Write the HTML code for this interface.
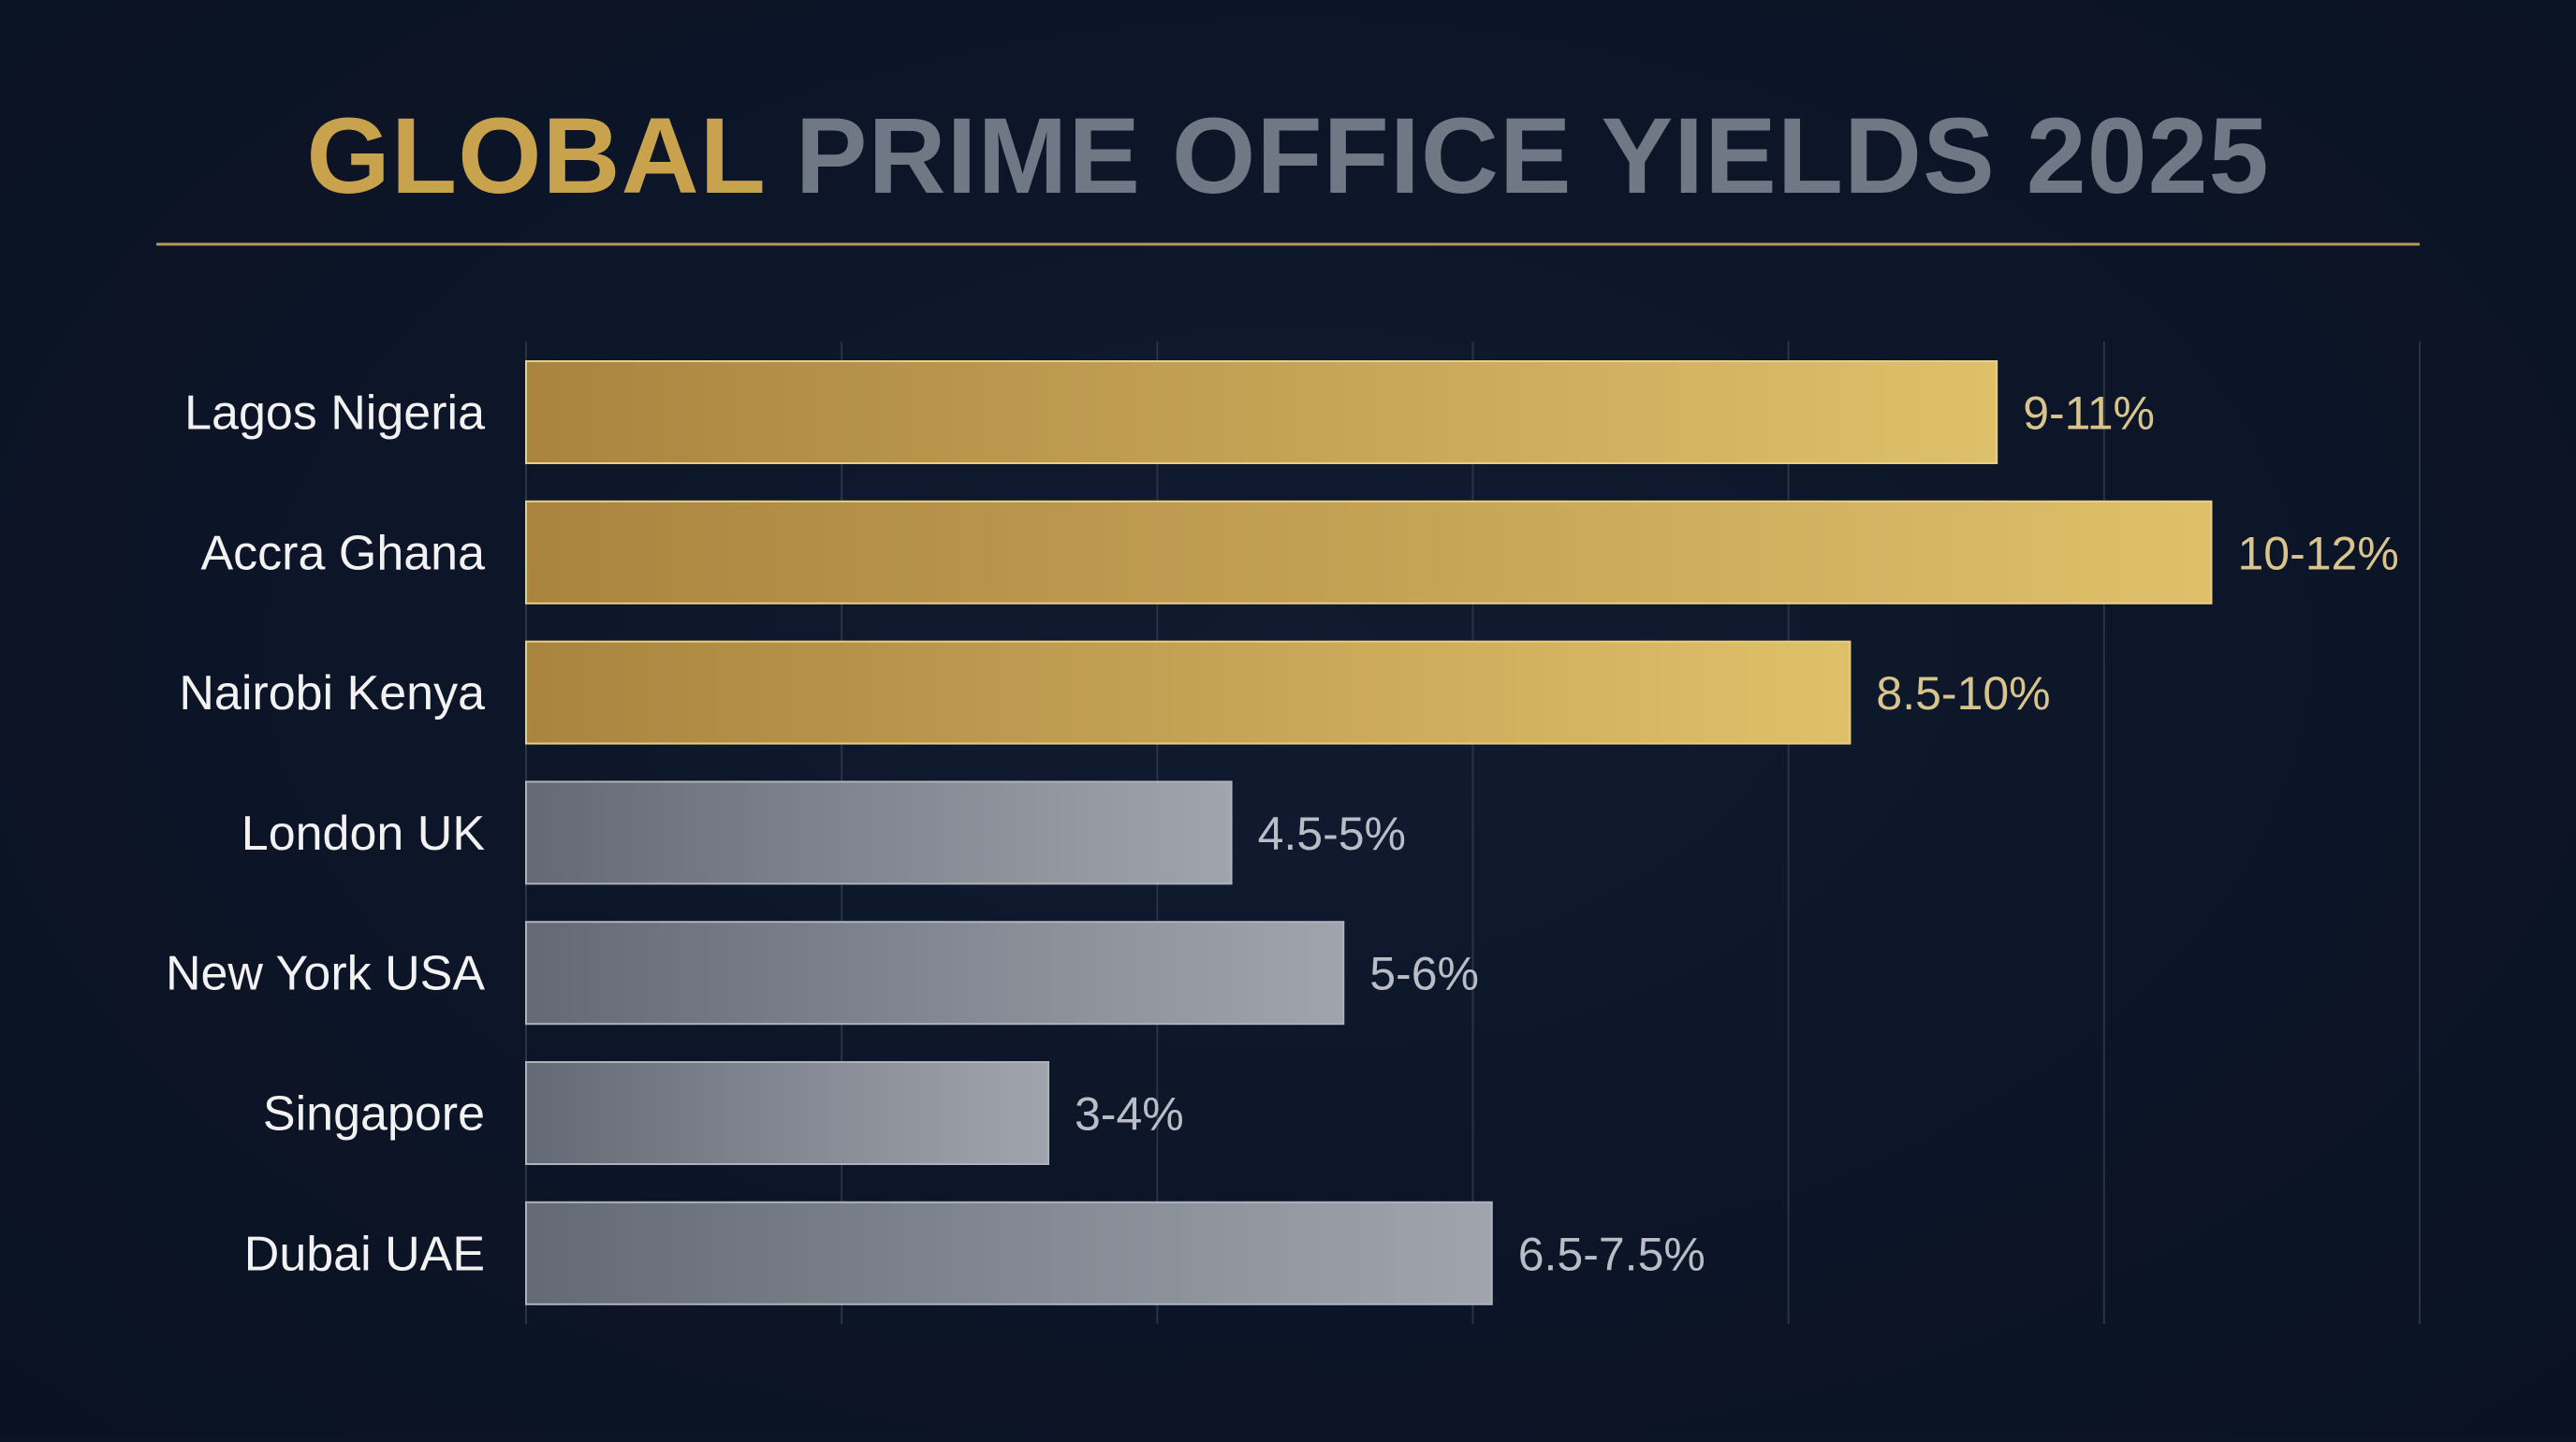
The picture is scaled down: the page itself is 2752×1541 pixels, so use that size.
<!DOCTYPE html>
<html><head><meta charset="utf-8"><style>
html,body{margin:0;padding:0;background:#0c1527;}
body{width:2752px;height:1536px;overflow:hidden;background:radial-gradient(ellipse at 50% 45%,#111b30 0%,#0c1527 60%,#0a1222 100%);font-family:"Liberation Sans",sans-serif;}
</style></head><body>
<svg id="chart" width="2752" height="1536" xmlns="http://www.w3.org/2000/svg">
<defs>
<linearGradient id="gold" x1="0" x2="1" y1="0" y2="0"><stop offset="0" stop-color="#a9843f"/><stop offset="1" stop-color="#dfc06a"/></linearGradient>
<linearGradient id="grey" x1="0" x2="1" y1="0" y2="0"><stop offset="0" stop-color="#646a75"/><stop offset="1" stop-color="#a0a5ad"/></linearGradient>
</defs>
<text x="1376" y="206" text-anchor="middle" font-size="115" font-weight="bold" letter-spacing="1"><tspan fill="#c9a24e">GLOBAL</tspan><tspan fill="#707785"> PRIME OFFICE YIELDS 2025</tspan></text>
<line x1="167" x2="2585" y1="261" y2="261" stroke="#b8975a" stroke-width="3"/>
<g id="grid"></g><g id="bars"></g>
</svg>
<script>
const categories=["Lagos Nigeria","Accra Ghana","Nairobi Kenya","London UK","New York USA","Singapore","Dubai UAE"];
const values=[9.32,10.68,8.39,4.47,5.18,3.31,6.12];
const valueLabels=["9-11%","10-12%","8.5-10%","4.5-5%","5-6%","3-4%","6.5-7.5%"];
const groups=["africa","africa","africa","global","global","global","global"];
const gridTicks=[0,2,4,6,8,10,12];
const NS="http://www.w3.org/2000/svg";
const x0=562,x1=2585,dMax=12;
const xs=v=>x0+(x1-x0)*v/dMax;
const yTop=i=>386+i*149.8, bh=109;
const grid=document.getElementById('grid'),bars=document.getElementById('bars');
function mk(t,a,p){const e=document.createElementNS(NS,t);for(const k in a)e.setAttribute(k,a[k]);p.appendChild(e);return e;}
gridTicks.forEach(t=>{
 const l=mk('line',{x1:xs(t),x2:xs(t),y1:365,y2:1415,stroke:'#2a3346','stroke-width':2},grid);
 
 
});
categories.forEach((c,i)=>{
 const gold=groups[i]==="africa";
 const r=mk('rect',{x:x0,y:yTop(i),width:xs(values[i])-x0,height:bh,fill:gold?'url(#gold)':'url(#grey)',stroke:gold?'#e8cf86':'#aeb3bb','stroke-width':2},bars);
 
 
 const lb=mk('text',{x:518,y:yTop(i)+bh/2+18,'text-anchor':'end','font-size':52,fill:'#f2f2f2'},bars);
 lb.textContent=c;
 
 
 const vl=mk('text',{x:xs(values[i])+28,y:yTop(i)+bh/2+18,'font-size':50,fill:gold?'#d8c48c':'#b9bdc5'},bars);
 vl.textContent=valueLabels[i];
 
 
});
</script>
</body></html>
